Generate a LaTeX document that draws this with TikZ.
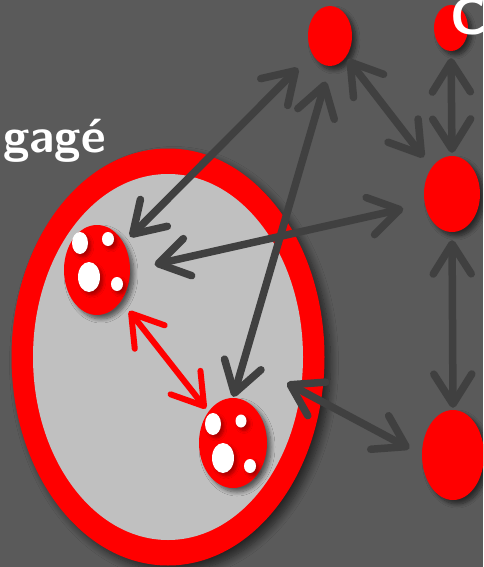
\documentclass[tikz,border=0pt]{standalone}
\usepackage{amsmath, amssymb}
\usepackage{tikz}
\usetikzlibrary{calc,shapes,arrows.meta,shadows,shadows.blur}
\definecolor{bggray}{HTML}{5A5A5A}
\definecolor{linkgray}{HTML}{404040}
\definecolor{cellgray}{HTML}{C0C0C0}

\begin{document}
\begin{tikzpicture}[x=1pt,y=-1pt,
    >={Straight Barb[length=30pt,width=38pt,round]},
    shad/.style={blur shadow={shadow xshift=4pt,shadow yshift=-4pt,shadow opacity=55,shadow blur steps=8,shadow blur radius=4pt}},
    cell/.style={ellipse,fill=red,inner sep=0pt,shad},
    spot/.style={ellipse,fill=white,inner sep=0pt,
        blur shadow={shadow xshift=3pt,shadow yshift=-3pt,shadow opacity=35,shadow blur steps=6,shadow blur radius=3pt}},
    link/.style={draw=linkgray,line width=7.5pt,line cap=round,line join=round,<->},
    bigtext/.style={text=white,inner sep=0pt,font=\sffamily\bfseries\fontsize{48}{48}\selectfont}]
        \clip (0,0) rectangle (483,567);
        \fill[bggray] (0,0) rectangle (483,567);
        % engaged cell
        \node[ellipse,fill=red,inner sep=0pt,minimum width=313pt,minimum height=417pt,
            blur shadow={shadow xshift=6pt,shadow yshift=-6pt,shadow opacity=60,shadow blur steps=10,shadow blur radius=8pt}] (E) at (168,357) {};
        \node[ellipse,fill=cellgray,inner sep=0pt,minimum width=270pt,minimum height=366pt] (Ein) at (E) {};
        \node[anchor=base west,bigtext] (eng) at (3,152) {gagé};
        % outside cells
        \node[cell,minimum width=44pt,minimum height=60pt] (A) at (330,36) {};
        \node[cell,minimum width=34pt,minimum height=46pt] (B) at (451,28) {};
        \node[anchor=base west,bigtext,font=\sffamily\bfseries\fontsize{52}{52}\selectfont] (co) at (450,35) {C};
        \node[cell,minimum width=56pt,minimum height=76pt] (C) at (452,194) {};
        \node[cell,minimum width=62pt,minimum height=90pt] (D) at (453,455) {};
        % spotted cells inside
        \node[cell,minimum width=66pt,minimum height=90pt] (n1) at (97,270) {};
        \node[cell,minimum width=68pt,minimum height=90pt] (n2) at (233,443) {};
        \foreach \dx/\dy/\w/\h in {-17/-27/16/22, 11/-31/12/14, -8/7/22/30, 20/14/12/14}
        \node[spot,minimum width=\w pt,minimum height=\h pt] at ([shift={(\dx,\dy)}]n1) {};
        \foreach \dx/\dy/\w/\h in {-20/-19/16/22, 8/-22/11/13, -10/15/22/30, 17/23/12/14}
        \node[spot,minimum width=\w pt,minimum height=\h pt] at ([shift={(\dx,\dy)}]n2) {};
        \coordinate (Etip) at (287,383);
        % links
        \draw[link,shorten <=20pt,shorten >=9pt] (A) -- (n1);
        \draw[link,shorten <=16pt,shorten >=1pt] (A.south) -- (n2.north);
        \draw[link,shorten <=3pt,shorten >=13pt] (A) -- (C);
        \draw[link,shorten <=7pt,shorten >=3pt] (B.south) -- (C.north);
        \draw[link,shorten <=25pt,shorten >=22pt] (n1.east) -- (C.200);
        \draw[link,shorten <=8pt,shorten >=2pt] (C.south) -- (D.north);
        \draw[link,shorten <=14pt] (D.west) -- (Etip);
        \draw[link,draw=red,line width=6pt,shorten <=13pt,shorten >=4pt] (n1) -- (n2);
    \end{tikzpicture}
\end{document}
